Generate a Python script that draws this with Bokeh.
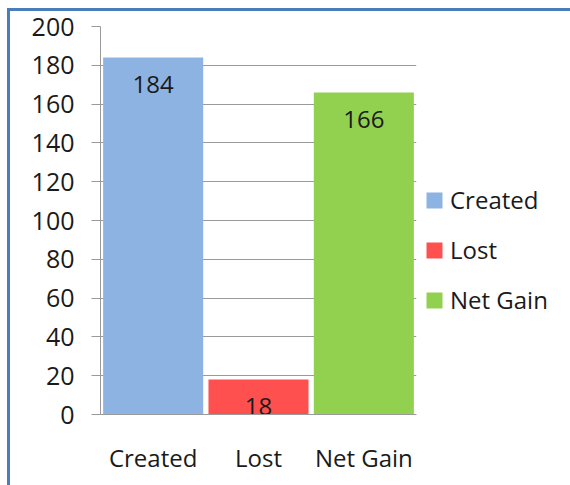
from bokeh.plotting import figure
from bokeh.models import ColumnDataSource, FixedTicker, Legend, LegendItem, FactorRange, Range1d
from bokeh.core.properties import value
from bokeh.embed import file_html
from bokeh.resources import INLINE

categories = ["Created", "Lost", "Net Gain"]
values = [184, 18, 166]
colors = ["#8db3e2", "#ff5050", "#92d050"]
y_ticks = [0, 20, 40, 60, 80, 100, 120, 140, 160, 180, 200]

FONT = "Open Sans"
FS = "24px"
TXT = "#1a1a1a"
GREY = "#9a9a9a"
BLUE = "#4a7ebb"

src = ColumnDataSource(dict(cat=categories, val=values, color=colors,
                            label=[str(v) for v in values]))

p = figure(x_range=FactorRange(*categories, range_padding=0), y_range=Range1d(0, 200),
           frame_width=316, frame_height=388,
           min_border_left=100, min_border_right=154, min_border_top=26, min_border_bottom=71,
           output_backend="svg", toolbar_location=None)
p.border_fill_alpha = 0
p.styles = {
    "background-color": "white",
    "background-image": f"linear-gradient({BLUE},{BLUE}), linear-gradient({BLUE},{BLUE})",
    "background-size": "3px 100%, 100% 3px",
    "background-position": "7px 8px, 7px 8px",
    "background-repeat": "no-repeat",
}

r = p.vbar(x="cat", top="val", width=0.95, color="color", line_color=None, source=src)
p.text(x="cat", y="val", text="label", source=src, text_font=value(FONT), text_font_size=FS,
       text_align="center", text_baseline="middle", y_offset=27, text_color=TXT)

legend = Legend(items=[LegendItem(label=c, renderers=[r], index=i) for i, c in enumerate(categories)])
legend.location = (8, 98)
legend.border_line_color = None
legend.background_fill_alpha = 0
legend.padding = 0
legend.margin = 0
legend.glyph_width = 20
legend.glyph_height = 20
legend.label_standoff = 6
legend.spacing = 17
legend.label_text_font = FONT
legend.label_text_font_size = FS
legend.label_text_color = TXT
p.add_layout(legend, "right")

p.outline_line_color = None
p.xgrid.grid_line_color = None
p.ygrid.grid_line_color = GREY
p.ygrid.ticker = FixedTicker(ticks=y_ticks)
p.yaxis.ticker = FixedTicker(ticks=y_ticks)

for ax in (p.xaxis[0], p.yaxis[0]):
    ax.axis_line_color = GREY
    ax.major_label_text_font = FONT
    ax.major_label_text_font_size = FS
    ax.major_label_text_color = TXT
    ax.minor_tick_line_color = None

p.yaxis.major_label_text_font_size = "25px"
p.yaxis.major_tick_line_color = GREY
p.yaxis.major_tick_out = 9
p.yaxis.major_tick_in = 0
p.yaxis.major_label_standoff = 17
p.xaxis.major_tick_line_color = None
p.xaxis.major_label_standoff = 20

open("out.html", "w").write(file_html(p, INLINE))
